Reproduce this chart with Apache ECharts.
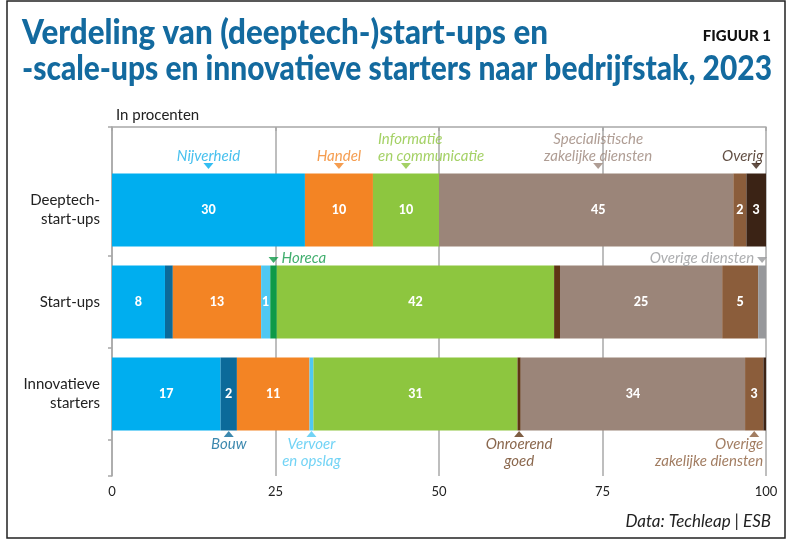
<!DOCTYPE html>
<html><head><meta charset="utf-8">
<script src="https://cdn.jsdelivr.net/npm/echarts@6/dist/echarts.min.js"></script>
<style>html,body{margin:0;padding:0;background:#fff}#c{width:790px;height:544px}</style>
</head><body><div id="c"></div>
<script>
// ---- data (percentages per sector) ----
const categories = ['Deeptech-\nstart-ups', 'Start-ups', 'Innovatieve\nstarters'];
const sectors = ['Nijverheid', 'Bouw', 'Handel', 'Vervoer en opslag', 'Horeca', 'Informatie en communicatie',
  'Onroerend goed', 'Specialistische zakelijke diensten', 'Overige zakelijke diensten', 'Overige diensten', 'Overig'];
const nijverheid      = [29.5, 8.1, 16.6];
const bouw            = [0, 1.2, 2.5];
const handel          = [10.4, 13.5, 11.1];
const vervoer         = [0, 1.4, 0.6];
const horeca          = [0, 1.0, 0];
const informatie      = [10.1, 42.4, 31.2];
const onroerend       = [0, 0.9, 0.5];
const specialistisch  = [45.0, 24.8, 34.3];
const overigeZakelijk = [2.0, 5.5, 2.8];
const overigeDiensten = [0, 1.2, 0];
const overig          = [3.0, 0, 0.4];
// printed value labels
const lblNijverheid = ['30', '8', '17'];
const lblBouw = ['', '', '2'];
const lblHandel = ['10', '13', '11'];
const lblVervoer = ['', '1', ''];
const lblInformatie = ['10', '42', '31'];
const lblSpecialistisch = ['45', '25', '34'];
const lblOverigeZakelijk = ['2', '5', '3'];
const lblOverig = ['3', '', ''];
const xTicks = [0, 25, 50, 75, 100];
const titleLines = ['Verdeling van (deeptech-)start-ups en', '-scale-ups en innovatieve starters naar bedrijfstak, 2023'];

const values = [nijverheid, bouw, handel, vervoer, horeca, informatie, onroerend, specialistisch, overigeZakelijk, overigeDiensten, overig];
const labels = [lblNijverheid, lblBouw, lblHandel, lblVervoer, null, lblInformatie, null, lblSpecialistisch, lblOverigeZakelijk, null, lblOverig];
const colors = ['#00aeef', '#0b6a9a', '#f38424', '#4fc8f2', '#0f9a48', '#8dc63f', '#5e3514', '#9b8579', '#8b5d3b', '#97989b', '#3b2315'];
const annColors = ['#19b0ea', '#0b6a9a', '#f38424', '#4fc8f2', '#119a4a', '#8dc63f', '#6d4120', '#9b8579', '#8b5d3b', '#97989b', '#3b2315'];

function mid(s, c) {
  let acc = 0;
  for (let i = 0; i < s; i++) acc += values[i][c];
  return acc + values[s][c] / 2;
}

const FONT = 'Lato, "Open Sans", sans-serif';
const series = values.map((v, s) => ({
  type: 'bar', name: sectors[s], stack: 'tot', xAxisIndex: 1, yAxisIndex: 1,
  barWidth: 73,
  data: v.map((val, c) => (s === 7 && c === 0) ? { value: val, label: { offset: [12, 0] } } : val),
  itemStyle: { color: colors[s] },
  label: {
    show: !!labels[s], position: 'inside', color: '#fff', fontFamily: FONT, fontWeight: 900, fontSize: 12.5,
    formatter: p => labels[s] ? labels[s][p.dataIndex] : ''
  },
  emphasis: { disabled: true }, silent: true
}));

// annotations: [sectorIndex, categoryIndex, side, text, align, dx, dy, triangleShiftX]
const ann = [
  [0, 0, 'top', 'Nijverheid', 'center', 0, 4, 0],
  [2, 0, 'top', 'Handel', 'center', 0, 4, 0],
  [5, 0, 'top', 'Informatie\nen communicatie', 'left', -28, 4, 0],
  [7, 0, 'top', 'Specialistische\nzakelijke diensten', 'center', 0, 4, 12],
  [10, 0, 'top', 'Overig', 'right', 7, 4, 0],
  [4, 1, 'right', 'Horeca', 'left', 0, -2, 0],
  [9, 1, 'left', 'Overige diensten', 'right', 0, -2, 0],
  [1, 2, 'bottom', 'Bouw', 'center', 0, -3, 0],
  [3, 2, 'bottom', 'Vervoer\nen opslag', 'center', 0, -3, 0],
  [6, 2, 'bottom', 'Onroerend\ngoed', 'center', 0, -3, 0],
  [8, 2, 'bottom', 'Overige\nzakelijke diensten', 'right', 9, -3, 0]
];
const annData = ann.map(a => {
  const [s, c, side, text, align, dx, dy, tx] = a;
  const below = side === 'bottom';
  const oy = below ? 40 : (c === 0 ? -44 : -42);
  return {
    value: [mid(s, c), c],
    symbol: 'triangle', symbolSize: [10, 6], symbolRotate: below ? 0 : 180,
    symbolOffset: [tx, oy],
    itemStyle: { color: colors[s] },
    label: {
      show: true, formatter: text, color: annColors[s], position: side,
      align: align, offset: [dx, dy], distance: side === 'left' || side === 'right' ? 3 : 2,
      fontFamily: FONT, fontStyle: 'italic', fontSize: 15, lineHeight: 17
    }
  };
});
series.push({ type: 'scatter', xAxisIndex: 1, yAxisIndex: 1, data: annData, z: 10, silent: true });

// condensed title: measure each line and squeeze horizontally to the reference widths
const TITLE_FONT = '900 34px Lato';
const titleWidths = [526, 750];
const ctx = document.createElement('canvas').getContext('2d');
ctx.font = TITLE_FONT;
const titleScales = titleLines.map((t, i) => titleWidths[i] / ctx.measureText(t).width);

const chart = echarts.init(document.getElementById('c'), null, { renderer: 'canvas' });
chart.setOption({
  animation: false,
  backgroundColor: '#fff',
  title: [{
    text: 'FIGUUR 1', right: 14, top: 24,
    textStyle: { color: '#111', fontFamily: FONT, fontWeight: 900, fontSize: 15 }
  }, {
    text: 'In procenten', left: 111, top: 103,
    textStyle: { color: '#222', fontFamily: FONT, fontWeight: 'normal', fontSize: 15 }
  }, {
    text: 'Data: Techleap | ESB', right: 14, top: 508,
    textStyle: { color: '#222', fontFamily: FONT, fontStyle: 'italic', fontWeight: 'normal', fontSize: 17 }
  }],
  graphic: [{
    type: 'rect', shape: { x: 7, y: 1, width: 778, height: 537 },
    style: { fill: 'none', stroke: '#222', lineWidth: 1.5 }, silent: true, z: -1
  }].concat(titleLines.map((t, i) => ({
    type: 'text', x: 22, y: 50 + i * 36.5, scaleX: titleScales[i], silent: true,
    style: { text: t, font: TITLE_FONT, fill: '#136a9f', align: 'left', verticalAlign: 'bottom' }
  }))),
  grid: [
    { left: 112, right: 24, top: 127, bottom: 68 },
    { left: 112, right: 24, top: 164, bottom: 104 }
  ],
  xAxis: [{
    gridIndex: 0, type: 'value', min: 0, max: 100, interval: 25,
    axisLine: { show: true, lineStyle: { color: '#a8a8a8', width: 1.5 } },
    axisTick: { show: true, length: 4, lineStyle: { color: '#a8a8a8', width: 1.5 } },
    splitLine: { show: true, lineStyle: { color: '#a8a8a8', width: 1.5 } },
    axisLabel: { color: '#222', fontFamily: FONT, fontSize: 13, margin: 9,
      formatter: v => xTicks.indexOf(v) >= 0 ? String(v) : '' }
  }, {
    gridIndex: 1, type: 'value', min: 0, max: 100, show: false
  }],
  yAxis: [{
    gridIndex: 0, type: 'value', min: 0, max: 1, interval: 1, inverse: true,
    axisLine: { show: true, lineStyle: { color: '#a8a8a8', width: 1.5 } },
    axisTick: { show: true, length: 4, lineStyle: { color: '#a8a8a8', width: 1.5 } },
    splitLine: { show: false }, axisLabel: { show: false }
  }, {
    gridIndex: 1, type: 'category', data: categories, inverse: true,
    axisLine: { show: false },
    axisTick: { show: true, length: 4, interval: (i) => i > 0, lineStyle: { color: '#a8a8a8', width: 1.5 } },
    axisLabel: { color: '#222', fontFamily: FONT, fontSize: 15, lineHeight: 19, margin: 12, align: 'right' }
  }],
  series: series
});
</script>
</body></html>
